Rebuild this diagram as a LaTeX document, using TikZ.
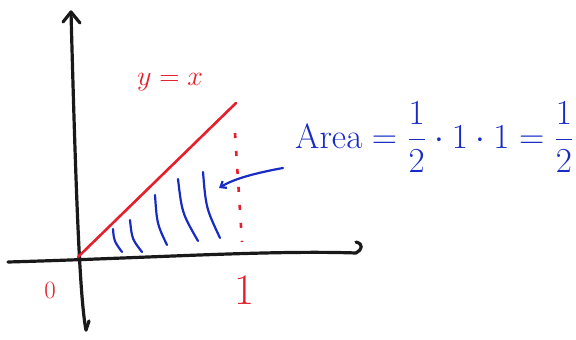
\documentclass[tikz,border=0pt]{standalone}
\usepackage{graphicx}
\usepackage{tikz}
\usepackage{xcolor}
\usetikzlibrary{arrows.meta,positioning}

\definecolor{redpen}{RGB}{228,32,44}
\definecolor{bluepen}{RGB}{24,44,196}

\begin{document}
\begin{tikzpicture}[
    x=1pt, y=-1pt,
    % Define styles
    axis/.style={line width=3.2pt, black!90, line cap=round, line join=round},
    graph/.style={line width=2.6pt, redpen, line cap=round},
    guide/.style={line width=2.6pt, redpen, dash pattern=on 5pt off 13pt},
    hatch/.style={line width=2.2pt, bluepen, line cap=round},
    pointer/.style={line width=2.2pt, bluepen, line cap=round, -{Straight Barb[length=5pt,width=8pt,line width=2.2pt]}},
    redlbl/.style={text=redpen, inner sep=0pt, font=\Huge},
    bluelbl/.style={text=bluepen, inner sep=0pt, font=\Huge}
]
\useasboundingbox (0,0) rectangle (576,340);

% Key points
\coordinate (O) at (78,257);
\coordinate (xl) at (8,262);
\coordinate (xr) at (356,253);
\coordinate (yt) at (71,12);
\coordinate (yb) at (86,330);
\coordinate (P) at (236,103);
\coordinate (ftop) at (235,133);
\coordinate (fbot) at (242,242);
\coordinate (shade) at (219,188);
\coordinate (tail) at (283,168);

% Axes
\draw[axis] (xl) .. controls (150,258) and (270,250) .. (xr) .. controls (362,250) and (364,244) .. (356,242);
\draw[axis] (yb) .. controls (80,300) and (76,200) .. (yt);
\draw[axis] (63,22) -- (yt) -- (80,23);
\draw[axis] (yb) -- (89,321);

% Graph of y = x
\draw[graph] (O) -- (P);
\draw[guide] (ftop) -- (fbot);

% Shading strokes
\draw[hatch] (113,229) .. controls (114,241) .. (122,252);
\draw[hatch] (130,220) .. controls (132,239) .. (142,252);
\draw[hatch] (155,195) .. controls (157,224) .. (167,245);
\draw[hatch] (178,179) .. controls (182,213) .. (198,241);
\draw[hatch] (203,172) .. controls (206,208) .. (220,238);

% Labels
\node[redlbl] (fn) at (170,82) {\scalebox{1.13}{$y=x$}};
\node[redlbl] (zero) at (50,290) {$0$};
\node[redlbl] (one) at (244,290) {\scalebox{1.75}{$1$}};
\node[bluelbl, anchor=west] (area) at (295,137)
    {\scalebox{1.41}{$\displaystyle\mathrm{Area}=\frac{1}{2}\cdot 1\cdot 1=\frac{1}{2}$}};

% Pointer to shaded region
\draw[pointer] (tail) .. controls (250,174) and (232,180) .. (shade);

\end{tikzpicture}
\end{document}
